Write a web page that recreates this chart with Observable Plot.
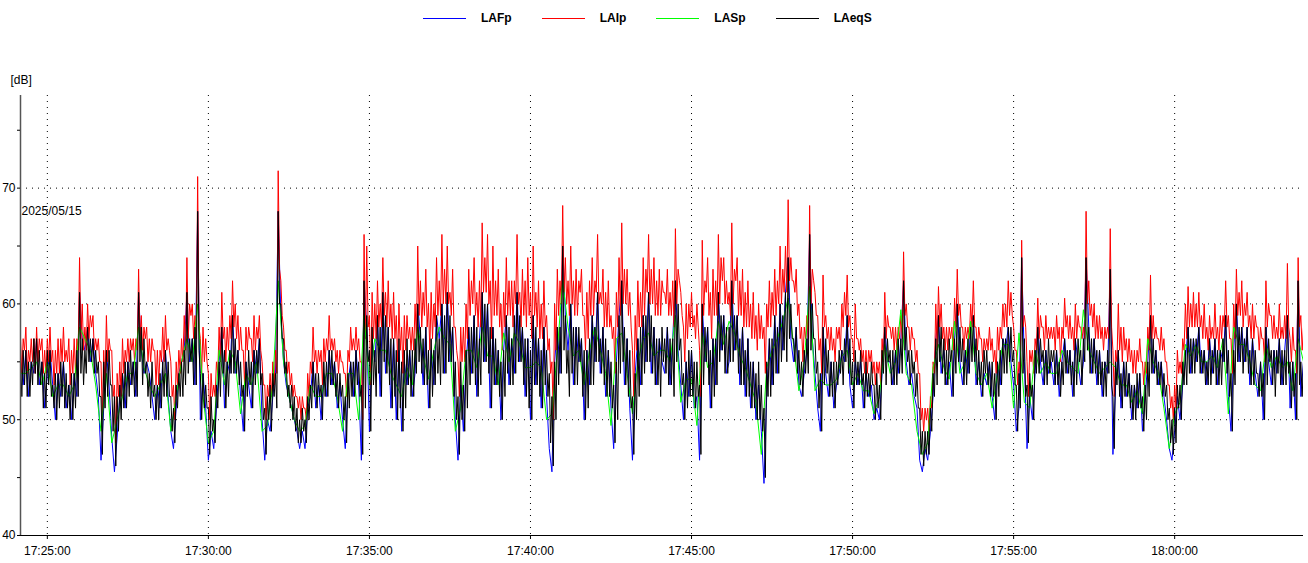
<!DOCTYPE html>
<html>
<head>
<meta charset="utf-8">
<script src="https://cdn.jsdelivr.net/npm/d3@7"></script>
<script src="https://cdn.jsdelivr.net/npm/@observablehq/plot@0.6"></script>
<style>
  html, body { margin: 0; padding: 0; background: #fff; }
  body { width: 1308px; height: 563px; overflow: hidden; font-family: "Liberation Sans", Arial, sans-serif; }
  #legend { height: 36px; display: flex; align-items: center; padding-left: 423px; box-sizing: border-box; }
  .item { display: flex; align-items: center; margin-right: 30px; }
  .swatch { width: 43px; height: 1px; margin-right: 15px; }
  .lab { font-weight: bold; font-size: 12px; color: #000; }
  #chart svg { display: block; }
</style>
</head>
<body>
<div id="legend"></div>
<div id="chart"></div>
<script>
// ---- data: LAIp / LAeqS every 2.5 s, LAFp every 5 s, LASp every 10 s, all from 17:24:10 ----
const startTime = "2025-05-15 17:24:10";
const endTime = "2025-05-15 18:04:00";
const dateLabel = "2025/05/15";
const unitLabel = "[dB]";
const seriesNames = ["LAFp", "LAIp", "LASp", "LAeqS"];
const seriesColors = ["#0000ff", "#ff0000", "#00ff00", "#000000"];
const seriesSteps = [5, 2.5, 10, 2.5];
const xTickLabels = ["17:25:00", "17:30:00", "17:35:00", "17:40:00", "17:45:00", "17:50:00", "17:55:00", "18:00:00"];
const yTicks = [40, 45, 50, 55, 60, 65, 70, 75];
const yGrid = [50, 60, 70];

const LAeqS = [
55,52,56,53,56,52,55,52,55,53,57,54,57,53,56,53,55,51,54,51,56,53,56,52,
53,51,54,50,54,51,55,52,55,51,54,51,53,50,54,50,54,51,56,52,61,54,57,53,
56,54,58,55,57,55,57,54,56,54,55,52,52,47,55,51,56,52,56,53,53,49,52,46,
52,49,53,50,54,51,55,51,55,52,56,53,55,52,55,52,61,55,58,53,57,54,55,52,
54,51,55,52,53,50,53,50,54,51,55,52,56,52,55,52,52,49,51,48,53,51,54,52,
55,52,56,53,61,54,57,55,57,53,58,53,68,56,54,50,54,51,53,51,51,47,52,49,
50,48,53,51,55,52,58,54,56,51,55,52,56,54,59,54,57,54,56,53,55,52,53,49,
55,52,56,53,55,51,56,53,56,54,57,53,54,50,51,47,52,50,53,49,54,52,54,51,
68,60,60,57,57,54,55,52,53,51,53,50,52,49,51,48,50,48,51,49,50,48,52,50,
53,51,55,52,54,51,54,52,53,50,55,52,55,52,56,53,56,53,55,52,54,51,54,52,
53,50,52,48,54,51,55,52,55,52,56,53,55,52,53,47,62,51,59,55,56,49,58,53,
56,52,59,54,58,52,61,55,59,54,58,53,57,51,57,52,56,50,57,51,55,49,56,51,
57,53,56,52,56,52,57,54,60,55,58,54,57,53,58,53,56,51,57,52,56,53,59,54,
57,53,60,54,59,54,61,55,59,55,58,52,55,50,52,47,55,50,53,49,56,51,58,53,
58,54,59,53,58,52,57,53,61,55,60,55,60,54,58,51,58,53,57,53,56,52,55,50,
56,52,59,54,58,53,57,53,59,54,61,55,59,55,58,53,57,52,57,51,56,50,59,53,
58,53,57,52,56,51,58,53,56,52,54,48,52,46,55,50,58,53,58,54,65,56,59,54,
56,52,60,54,58,53,58,53,58,55,57,52,56,50,56,51,57,53,59,53,58,55,61,55,
57,54,58,53,57,52,56,52,55,51,53,48,55,50,59,54,62,55,58,53,57,52,56,51,
52,47,54,50,57,52,58,53,59,54,59,55,61,55,59,54,58,53,57,53,57,52,58,55,
57,54,58,53,57,53,57,52,62,55,60,56,57,53,54,50,55,51,56,52,56,52,55,51,
55,52,53,47,60,53,58,55,58,53,56,51,57,52,57,53,61,55,59,56,59,54,58,54,
58,55,62,55,59,56,59,54,57,53,58,53,56,52,57,52,55,51,55,51,54,50,55,50,
53,49,51,45,55,52,57,52,57,53,59,54,58,54,60,55,59,56,61,55,64,57,60,57,
57,55,58,54,56,53,55,52,56,54,57,54,66,56,60,57,57,54,55,51,54,49,58,53,
57,54,56,52,55,52,55,51,55,53,56,54,56,53,57,55,59,54,57,53,55,51,56,53,
55,53,56,53,54,51,55,52,54,52,55,53,53,50,54,51,53,50,56,54,58,53,57,55,
56,53,56,53,56,53,57,54,57,54,62,56,58,55,56,53,56,54,55,52,54,51,51,47,
49,46,49,47,49,47,51,49,54,52,57,53,59,55,58,54,57,53,56,53,57,55,56,52,
57,54,60,55,58,55,57,53,56,53,57,54,58,55,59,55,57,53,56,53,55,52,56,54,
56,53,55,52,55,52,54,50,55,52,56,53,57,54,57,54,58,55,58,55,56,53,53,49,
54,51,64,54,57,52,53,48,54,52,53,50,56,54,58,54,57,55,56,53,56,53,57,54,
56,55,56,53,56,53,55,52,55,53,57,54,56,54,56,53,55,52,57,53,57,55,56,53,
57,55,64,56,58,54,57,54,57,54,56,53,56,53,55,52,55,52,56,54,63,53,52,47.5,
55,53,56,52,54,51,55,52,55,52,54,51,53,50,53,50,54,51,54,51,52,49,53,50,
55,52,59,54,57,54,56,53,55,53,55,52,54,52,53,50,51,48,50,47,51,48,53,51,
53,50,55,53,56,53,58,54,57,54,57,54,57,55,58,54,56,54,56,53,55,53,57,53,
56,54,57,53,56,53,56,53,57,55,59,54,56,52,54,49,56,53,60,55,58,55,58,54,
57,55,58,54,56,53,57,53,56,54,54,52,55,52,54,50,58,53,57,55,56,53,56,52,
56,54,57,53,56,53,56,53,59,54,55,51,55,52,54,50,62,53,55,52,55,52
];

const LAIp = [
57,54,57,56,58,54,56,55,57,55,57,54,58,55,57,56,57,54,56,54,57,55,58,55,
56,53,56,54,57,54,57,55,58,55,56,55,57,53,56,54,57,54,57,56,64,57,60,56,
58,56,60,57,59,58,59,56,57,56,57,55,55,50,56,53,59,55,57,56,56,52,53,48,
54,52,55,52,57,54,56,55,57,55,57,56,57,55,57,56,63,57,59,56,58,57,58,55,
57,55,57,56,56,53,56,53,56,55,58,55,59,56,57,56,55,52,53,50,55,53,56,54,
57,55,59,56,64,57,60,59,60,57,59,57,71,58,57,54,58,55,57,55,54,50,54,52,
53,52,55,54,58,55,61,57,58,55,58,56,59,57,62,58,60,57,59,56,58,56,56,53,
58,56,58,57,57,55,59,56,58,57,59,56,55,53,53,50,53,52,54,52,55,53,56,54,
71.5,63,62,59,58,56,56,54,55,53,54,52,53,52,52,51,52,50,52,51,51,50,54,52,
55,54,58,55,56,54,56,55,56,53,57,55,57,56,59,56,57,56,57,55,56,54,56,55,
55,54,54,52,56,55,58,56,57,56,58,56,57,55,55,50,66,57,65,58,59,53,61,57,
60,57,62,58,60,58,64,59,61,58,62,58,60,57,61,57,59,55,60,56,58,54,59,56,
59,57,58,56,58,56,60,57,65,59,62,58,61,59,63,58,60,56,61,57,60,58,64,59,
62,59,66,60,63,60,65,60,61,59,63,58,58,56,55,52,58,55,58,55,60,57,63,59,
62,60,64,59,61,58,62,58,67,61,64,61,66,60,62,57,65,59,62,59,63,58,60,56,
61,58,64,59,62,59,62,58,62,60,66,60,61,58,63,59,62,58,64,59,61,57,65,59,
61,58,62,57,60,57,62,58,59,56,57,54,55,50,60,56,63,59,62,60,68.5,61,64,60,
62,59,65,60,62,59,63,59,62,61,63,59,59,56,61,57,62,59,64,59,62,61,66,60,
61,60,63,58,61,58,62,58,59,57,58,54,61,58,64,59,67,60,63,60,63,59,61,58,
56,52,59,56,62,58,61,58,64,59,63,61,66,60,63,60,64,59,62,59,63,59,62,61,
61,60,63,59,61,59,62,58,66.5,60,63,62,61,59,58,55,60,57,60,58,61,58,59,57,
60,58,56,52,65.5,59,62,61,64,59,61,57,63,59,62,59,66,60,64,62,64,60,62,60,
61,59,67,60,63,62,64,59,62,59,63,58,61,58,62,58,60,57,61,57,59,56,60,57,
59,57,58,54,60,58,62,58,61,59,63,59,62,60,65,60,63,61,65,61,69,62,64,62,
62,61,63,59,60,57,58,55,58,57,59,57,68.5,60,63,62,61,59,59,56,57,54,62.5,58,
59,57,58,56,58,56,57,55,58,57,58,56,60,58,61,59,62.5,58,59,57,57,55,60,57,
57,56,57,55,56,54,56,54,56,55,56,54,55,53,55,54,55,53,57,55,61,57,59,58,
58,57,58,56,58,56,58,57,59,57,64.5,59,60,58,58,56,58,57,57,55,56,54,54,50,
51,49,51,50,51,49,52,51,55,54,60,56,61.5,58,60,57,58,56,58,56,58,57,58,56,
60.5,58,63,59,60,58,58,56,58,57,58,57,60,58,62,58,58,56,58,57,57,55,57,56,
57,56,58,56,57,55,56,54,58,56,58,57,60,58,60,58,62,59,61,59,58,56,56,53,
55,54,65.5,58,59,58,55,52,56,55,56,54,57,56,60.5,57,59,58,58,56,59,57,58,57,
58,57,58,56,59,57,58,55,58,57,60.5,58,59,57,59,57,58,56,60,57,59,58,58,57,
58,57,68,60,62,59,60,58,60,57,59,57,59,57,58,56,58,57,58,57,66.5,58,56,52,
56,55,60,56,58,55,58,56,57,55,57,55,56,54,56,54,56,55,57,55,55,53,55,54,
58,56,62.5,57,59,57,58,57,57,56,58,56,57,55,55,53,53,51,52,50,53,51,56,54,
55,54,57,56,60,57,61.5,58,60,58,61,58,60,58,61,58,59,57,60,57,58,56,59,57,
58,57,60,57,58,56,59,57,59,58,62,58,59,57,57,54,60,57,63,59,61,59,62,58,
60,59,61,58,59,57,60,57,59,58,58,56,58,57,57,55,62,58,60,59,59,57,59,57,
58,57,60,57,58,57,59,57,63.5,58,57,55,58,56,56,54,64,58,59,56,58,56
];

const LAFp = [
55,53,56,52,55,54,57,53,55,51,54,56,
53,50,54,52,55,51,53,50,54,52,61,57,
56,58,55,57,54,52,46.5,51,56,53,48.5,45.5,
48.5,52,54,51,55,53,55,52,61,56,54,55,
54,52,50,53,51,55,56,52,49,47.5,51,54,
55,56,61,55,57,53,68,50,54,51,46.5,49,
47.5,51,55,58,51,55,54,59,54,56,52,49,
55,53,51,56,54,57,50,46.5,50,49,52,54,
68,59,55,53,52,51,50,49,47.5,49,47.5,51,
52,55,51,53,50,54,52,56,53,55,51,53,
50,47.5,53,55,52,56,53,46.5,62,58,49,57,
55,59,52,61,54,58,51,57,50,56,49,55,
53,56,52,54,60,57,53,58,51,56,53,59,
57,60,54,61,55,58,50,46.5,53,49,55,58,
54,59,52,57,61,55,60,51,58,53,56,50,
56,59,53,57,54,61,55,58,52,57,50,59,
53,57,51,58,52,47.5,45.5,55,58,54,65,59,
56,60,53,58,55,57,50,56,53,59,55,61,
54,58,52,56,51,47.5,55,59,62,53,57,51,
46.5,54,57,53,59,55,61,54,58,53,57,55,
54,58,53,57,62,56,53,50,55,52,56,51,
52,46.5,60,55,58,51,57,53,61,56,59,54,
55,62,56,59,53,58,52,57,51,55,50,53,
49,44.5,52,57,53,59,54,60,56,61,64,57,
55,58,53,52,54,56,66,57,54,51,49,58,
54,52,55,51,53,54,56,55,59,53,51,55,
53,55,51,54,52,53,50,51,50,54,58,55,
55,53,56,54,57,62,55,53,54,52,51,46.5,
45.5,47.5,46.5,49,52,57,59,54,56,53,55,52,
57,60,55,53,56,54,58,59,53,55,52,54,
53,55,52,50,55,53,57,56,58,55,53,49,
51,64,55,47.5,52,50,54,58,55,53,56,54,
55,53,56,52,55,57,54,56,52,57,55,53,
55,64,58,54,57,53,56,52,55,54,63,47,
53,56,51,55,52,54,50,53,51,54,49,52,
55,59,54,56,53,55,52,50,47.5,46.5,49,52,
50,53,55,58,54,57,55,58,54,56,53,57,
54,57,53,56,55,59,52,49,56,60,55,58,
55,58,53,57,54,52,55,50,58,55,53,56,
54,57,53,56,59,51,55,50,62,52,55
];

const LASp = [
54,54,54.5,55,53,55,
52,53,53,52,53,58,
57,56,53,49,54,48,
50,52,54,54,58,54.5,
53,52,53,54,49,52,
55,57,55,60,52,48,
49,56,53,56,55,50.5,
54,53,55,49,49.5,53,
62,55,52,50,49,49.5,
53,52,52,54,54,52,
49,54,54,50,59,53,
57,56,56,54,53,52,
54.5,53,58,55.5,53.5,56,
58,57,56.5,49,51,56,
56,54.5,58,55.5,55.5,53,
57.5,55,57.5,56.5,54.5,54.5,
55,54.5,50,50.5,56,62,
58,55.5,56,53,56,58,
56,54,49.5,57,57.5,54,
50.5,55,57,57.5,55.5,56,
56,55,59,51.5,53.5,53.5,
49.5,57.5,54.5,55,58.5,56.5,
58.5,57.5,55.5,54.5,53,51.5,
47,54.5,56,57,58.5,60.5,
56.5,52.5,55,61.5,52.5,53.5,
53,53,53.5,55.5,56,53,
54,52.5,52.5,50.5,52,56.5,
54,55,59.5,54,53,49,
47,48,54.5,56.5,54.5,53.5,
58.5,54,55,58.5,54,53,
54,51,54,56.5,56.5,51,
57.5,51.5,51,56,54,55,
54,54,56,55,54.5,54,
59.5,56,55,54,54.5,55,
54.5,53,53,51.5,52.5,50.5,
57,55,54,51,47.5,50.5,
51.5,56.5,55.5,56.5,55,55,
55.5,54.5,57,50.5,58,56.5,
56.5,55,53,52.5,56.5,54.5,
55.5,54.5,55,52.5,57,55
];

// ---- build ----
const parse = d3.timeParse("%Y-%m-%d %H:%M:%S");
const t0 = parse(startTime);
const t1 = parse(endTime);
const tickParse = d3.timeParse("%H:%M:%S");
const xTicks = xTickLabels.map(s => {
  const p = tickParse(s);
  return new Date(t0.getFullYear(), t0.getMonth(), t0.getDate(), p.getHours(), p.getMinutes(), p.getSeconds());
});
const fmt = d3.timeFormat("%H:%M:%S");

function toRows(values, stepSec) {
  return values.map((v, i) => ({t: new Date(+t0 + i * stepSec * 1000), v}));
}
const seriesValues = [LAFp, LAIp, LASp, LAeqS];

// legend
const legend = document.getElementById("legend");
seriesNames.forEach((n, i) => {
  const it = document.createElement("div");
  it.className = "item";
  const sw = document.createElement("span");
  sw.className = "swatch";
  sw.style.background = seriesColors[i];
  const lb = document.createElement("span");
  lb.className = "lab";
  lb.textContent = n;
  it.appendChild(sw); it.appendChild(lb);
  legend.appendChild(it);
});

const lineMarks = seriesNames.map((n, i) =>
  Plot.line(toRows(seriesValues[i], seriesSteps[i]), {x: "t", y: "v", stroke: seriesColors[i], strokeWidth: 1, clip: true})
);

const chart = Plot.plot({
  width: 1308,
  height: 527,
  marginTop: 59,
  marginBottom: 28,
  marginLeft: 20,
  marginRight: 5,
  x: {type: "time", domain: [t0, t1]},
  y: {domain: [40, 78]},
  style: {fontFamily: "'Liberation Sans', Arial, sans-serif", fontSize: "12px", color: "#000", background: "#fff", overflow: "visible"},
  marks: [
    Plot.gridY({ticks: yGrid, stroke: "#000", strokeOpacity: 1, strokeDasharray: "1,5"}),
    Plot.gridX({ticks: xTicks, stroke: "#000", strokeOpacity: 1, strokeDasharray: "1,5"}),
    ...lineMarks,
    Plot.ruleY([40], {stroke: "#000", strokeWidth: 1}),
    Plot.ruleX([t0], {stroke: "#555", strokeWidth: 1.5}),
    Plot.axisY({ticks: yTicks, tickFormat: d => (d % 10 === 0 ? d : ""), tickSize: 3, tickPadding: 2, label: null}),
    Plot.axisX({ticks: xTicks, tickFormat: fmt, tickSize: 4, tickPadding: 7, label: null}),
    Plot.text([unitLabel], {text: d => d, frameAnchor: "top-left", textAnchor: "start", dx: -10, dy: -20, fontSize: 12}),
    Plot.text([dateLabel], {text: d => d, x: () => t0, y: () => 68, textAnchor: "start", dx: 1, fontSize: 12})
  ]
});
document.getElementById("chart").appendChild(chart);
</script>
</body>
</html>
